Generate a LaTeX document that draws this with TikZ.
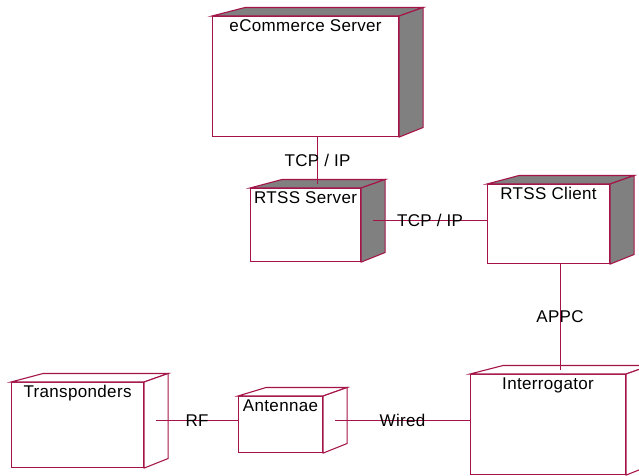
\documentclass[tikz,border=0pt]{standalone}
\usepackage{fontspec}
\setmainfont{Liberation Sans}[LetterSpace=2]
\definecolor{edge}{RGB}{165,20,72}
\definecolor{shade}{RGB}{128,128,128}
\tikzset{
  front/.style={draw=edge, line width=1.1pt, fill=white, inner sep=0pt, anchor=north west},
  facet/.style={draw=edge, line width=1.1pt, line join=miter},
  boxname/.style={font=\fontsize{17}{19}\selectfont, inner sep=0pt, anchor=base},
  link/.style={draw=edge, line width=0.8pt},
  linkname/.style={font=\fontsize{17}{19}\selectfont, inner sep=0pt, text height=12pt, text depth=0pt, anchor=center}
}
% UML deployment node: name, x, y (front top-left), width, height, face colour, title,
% horizontal offset of the rear left corner of the top face
\newcommand\devbox[8]{%
  \node[front, minimum width=#4pt, minimum height=#5pt] (#1) at (#2,#3) {};
  \filldraw[facet, fill=#6] (#1.north west) -- ++(#8,-8.5) -- ([shift={(24,-8.5)}]#1.north east) -- (#1.north east) -- cycle;
  \filldraw[facet, fill=#6] (#1.north east) -- ++(24,-8.5) -- ++(0,#5) -- (#1.south east) -- cycle;
  \coordinate (#1-top) at ([xshift=12pt,yshift=4.25pt]#1.north);
  \coordinate (#1-side) at ([xshift=12pt,yshift=4.25pt]#1.east);
  \node[boxname, yshift=-15pt] (#1-name) at (#1.north) {#7};
}
\begin{document}
\begin{tikzpicture}[x=1pt, y=-1pt]
  \clip (0,0) rectangle (639,475);
  \fill[white] (0,0) rectangle (639,475);

  \devbox{ecom}{212}{16}{186}{120}{shade}{eCommerce Server}{33}
  \devbox{rserver}{250}{188}{110}{73}{shade}{RTSS Server}{32}
  \devbox{rclient}{487}{184}{122}{79}{shade}{RTSS Client}{32}
  \devbox{transp}{11}{382}{132}{85}{white}{Transponders}{32}
  \devbox{anten}{238}{396}{84}{56}{white}{Antennae}{28}
  \devbox{interr}{470}{374}{155}{100}{white}{Interrogator}{33}

  \draw[link] ([xshift=12pt]ecom.south) -- (rserver-top)
    node[linkname, midway] (l1) {TCP / IP};
  \draw[link] (rserver-side) -- (rserver-side -| rclient.west)
    node[linkname, midway] (l2) {TCP / IP};
  \draw[link] (interr-top |- rclient.south) -- (interr-top)
    node[linkname, midway] (l3) {APPC};
  \draw[link] (transp-side) -- (transp-side -| anten.west)
    node[linkname, midway] (l4) {RF};
  \draw[link] (anten-side) -- (anten-side -| interr.west)
    node[linkname, midway] (l5) {Wired};
\end{tikzpicture}
\end{document}
